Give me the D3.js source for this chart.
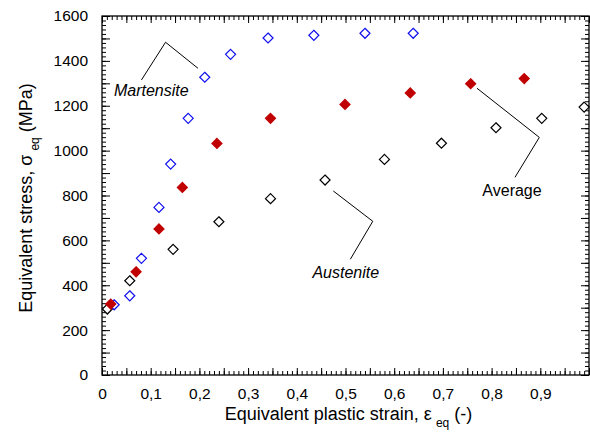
<!DOCTYPE html>
<html>
<head>
<meta charset="utf-8">
<script src="https://cdn.jsdelivr.net/npm/d3@7"></script>
<style>
  body { margin: 0; background: #fff; }
  text { font-family: "Liberation Sans", Arial, sans-serif; }
</style>
</head>
<body>
<svg id="drawing_region"></svg>
<script>
// data (strain, stress MPa)
const martensiteStrain = [0.025, 0.057, 0.081, 0.117, 0.141, 0.177, 0.211, 0.264, 0.341, 0.435, 0.540, 0.639];
const martensiteStress = [313, 353, 520, 747, 940, 1144, 1327, 1429, 1502, 1514, 1523, 1523];

const averageStrain = [0.018, 0.070, 0.117, 0.165, 0.236, 0.346, 0.499, 0.633, 0.757, 0.867];
const averageStress = [316, 460, 651, 836, 1032, 1144, 1206, 1257, 1298, 1321];

const austeniteStrain = [0.011, 0.057, 0.146, 0.240, 0.346, 0.458, 0.580, 0.697, 0.809, 0.903, 0.990];
const austeniteStress = [294, 420, 560, 683, 786, 869, 961, 1033, 1102, 1144, 1194];

const xTickLabels = [0, 0.1, 0.2, 0.3, 0.4, 0.5, 0.6, 0.7, 0.8, 0.9];
const yTickLabels = [0, 200, 400, 600, 800, 1000, 1200, 1400, 1600];

// annotation leaders (data units)
const martensiteLeader = [[0.081, 1315], [0.1305, 1483], [0.197, 1367]];
const austeniteLeader = [[0.475, 820], [0.556, 685], [0.510, 516]];
const averageLeader = [[0.770, 1278], [0.898, 1059], [0.848, 881]];

const config = {
  width: 590,
  height: 444,
  margin: { top: 16, right: 1, bottom: 69, left: 102 }
};

const svg = d3.select('#drawing_region')
  .attr('width', config.width)
  .attr('height', config.height);

const inner_width = config.width - config.margin.left - config.margin.right;
const inner_height = config.height - config.margin.top - config.margin.bottom;

const chart = svg.append('g')
  .attr('transform', `translate(${config.margin.left}, ${config.margin.top})`);

const xscale = d3.scaleLinear().domain([0, 1]).range([0, inner_width]);
const yscale = d3.scaleLinear().domain([0, 1600]).range([inner_height, 0]);

const fmt = d => d === 0 ? '0' : d3.format('.1f')(d).replace('.', ',');

// minor / major ticks
const xMinor = d3.range(0, 101).map(i => i / 100);
const yMinor = d3.range(0, 81).map(i => i * 20);
const xMajor = d3.range(0, 21).map(i => i * 0.05);
const yMajor = d3.range(0, 17).map(i => i * 100);

function tickAxis(axis, values, size, transform) {
  const g = chart.append('g')
    .attr('transform', transform)
    .call(axis.tickValues(values).tickSize(size).tickFormat(''));
  g.select('.domain').remove();
  g.selectAll('line').attr('stroke', '#000').attr('stroke-width', 1);
  return g;
}

tickAxis(d3.axisBottom(xscale), xMinor, -4, `translate(0, ${inner_height})`);
tickAxis(d3.axisBottom(xscale), xMajor, -7, `translate(0, ${inner_height})`);
tickAxis(d3.axisTop(xscale), xMinor, -4, 'translate(0, 0)');
tickAxis(d3.axisTop(xscale), xMajor, -7, 'translate(0, 0)');
tickAxis(d3.axisLeft(yscale), yMinor, -4, 'translate(0, 0)');
tickAxis(d3.axisLeft(yscale), yMajor, -8, 'translate(0, 0)');
tickAxis(d3.axisRight(yscale), yMinor, -4, `translate(${inner_width}, 0)`);
tickAxis(d3.axisRight(yscale), yMajor, -8, `translate(${inner_width}, 0)`);

// labels
const xaxis_group = chart.append('g')
  .attr('transform', `translate(0, ${inner_height})`)
  .call(d3.axisBottom(xscale).tickValues(xTickLabels).tickSize(0).tickPadding(13).tickFormat(fmt));
xaxis_group.select('.domain').remove();
xaxis_group.selectAll('text').attr('font-size', 15.5).attr('fill', '#000')
  .style('font-family', '"Liberation Sans", Arial, sans-serif');

const yaxis_group = chart.append('g')
  .call(d3.axisLeft(yscale).tickValues(yTickLabels).tickSize(0).tickPadding(14).tickFormat(d3.format('d')));
yaxis_group.select('.domain').remove();
yaxis_group.selectAll('text').attr('font-size', 15.5).attr('fill', '#000')
  .style('font-family', '"Liberation Sans", Arial, sans-serif');

// frame
chart.append('rect')
  .attr('x', 0).attr('y', 0)
  .attr('width', inner_width).attr('height', inner_height)
  .attr('fill', 'none').attr('stroke', '#000').attr('stroke-width', 1.3);

// leaders
const line = d3.line().x(d => xscale(d[0])).y(d => yscale(d[1]));
[martensiteLeader, austeniteLeader, averageLeader].forEach(pts => {
  chart.append('path').attr('d', line(pts))
    .attr('fill', 'none').attr('stroke', '#000').attr('stroke-width', 1);
});

// series
const diamond = d3.symbol().type(d3.symbolDiamond2).size(64);
function drawSeries(xs, ys, fill, stroke) {
  chart.append('g').selectAll('path')
    .data(xs.map((x, i) => ({ x: x, y: ys[i] })))
    .join('path')
    .attr('d', diamond)
    .attr('transform', d => `translate(${xscale(d.x)}, ${yscale(d.y)})`)
    .attr('fill', fill)
    .attr('stroke', stroke)
    .attr('stroke-width', 1.2);
}
drawSeries(austeniteStrain, austeniteStress, '#fff', '#000');
drawSeries(martensiteStrain, martensiteStress, '#fff', '#1010ee');
drawSeries(averageStrain, averageStress, '#c00000', '#c00000');

// annotation labels
chart.append('text').attr('x', xscale(0.0246)).attr('y', yscale(1242))
  .attr('font-size', 16).attr('font-style', 'italic').text('Martensite');
chart.append('text').attr('x', xscale(0.432)).attr('y', yscale(432))
  .attr('font-size', 16).attr('font-style', 'italic').text('Austenite');
chart.append('text').attr('x', xscale(0.781)).attr('y', yscale(796))
  .attr('font-size', 16).text('Average');

// axis titles
const xt = svg.append('text')
  .attr('x', config.margin.left + inner_width / 2 + 3)
  .attr('y', 420)
  .attr('text-anchor', 'middle')
  .attr('font-size', 18);
xt.append('tspan').text('Equivalent plastic strain, ε');
xt.append('tspan').attr('font-size', 12).attr('dy', 7).attr('dx', 4).text('eq');
xt.append('tspan').attr('dy', -7).text(' (-)');

const yt = svg.append('text')
  .attr('transform', 'translate(32, 198) rotate(-90)')
  .attr('text-anchor', 'middle')
  .attr('font-size', 18);
yt.append('tspan').text('Equivalent stress, σ');
yt.append('tspan').attr('font-size', 12).attr('dy', 7).attr('dx', 4).text('eq');
yt.append('tspan').attr('dy', -7).text(' (MPa)');
</script>
</body>
</html>
